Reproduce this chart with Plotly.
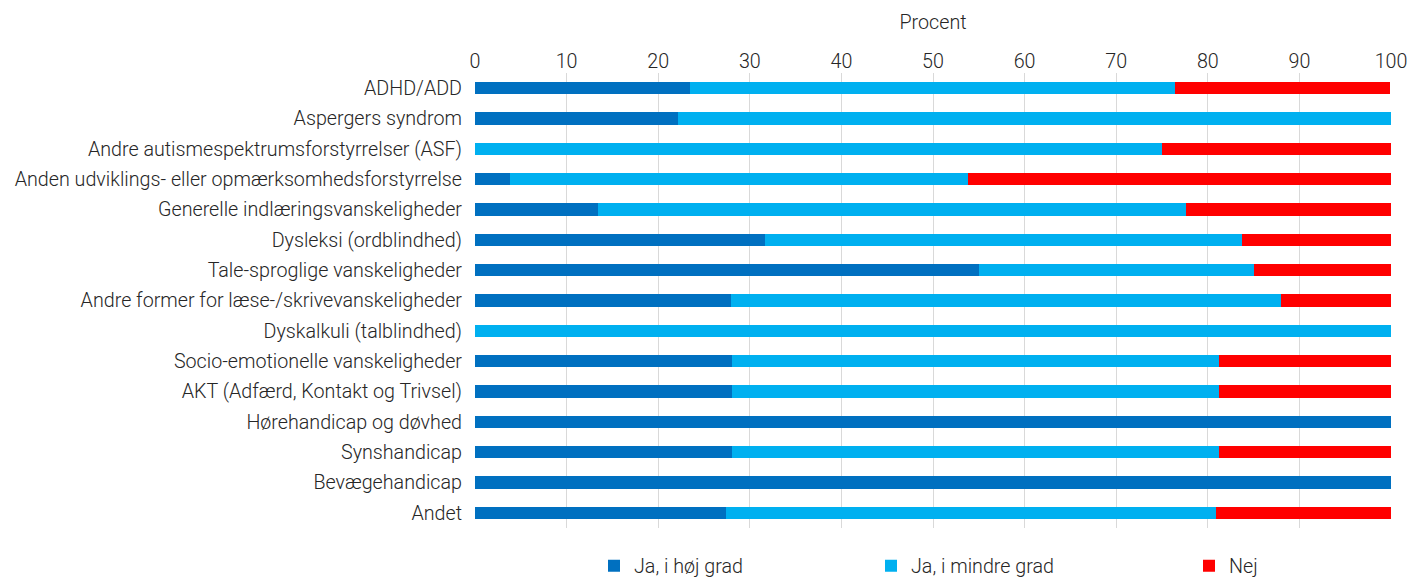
import plotly.graph_objects as go

categories = [
    "ADHD/ADD",
    "Aspergers syndrom",
    "Andre autismespektrumsforstyrrelser (ASF)",
    "Anden udviklings- eller opmærksomhedsforstyrrelse",
    "Generelle indlæringsvanskeligheder",
    "Dysleksi (ordblindhed)",
    "Tale-sproglige vanskeligheder",
    "Andre former for læse-/skrivevanskeligheder",
    "Dyskalkuli (talblindhed)",
    "Socio-emotionelle vanskeligheder",
    "AKT (Adfærd, Kontakt og Trivsel)",
    "Hørehandicap og døvhed",
    "Synshandicap",
    "Bevægehandicap",
    "Andet",
]

ja_hoej = [23.5, 22.2, 0.0, 3.8, 13.4, 31.7, 55.0, 28.0, 0.0, 28.1, 28.1, 100.0, 28.1, 100.0, 27.4]
ja_mindre = [52.9, 77.8, 75.0, 50.0, 64.2, 52.0, 30.0, 60.0, 100.0, 53.1, 53.1, 0.0, 53.1, 0.0, 53.5]
nej = [23.5, 0.0, 25.0, 46.2, 22.4, 16.3, 15.0, 12.0, 0.0, 18.8, 18.8, 0.0, 18.8, 0.0, 19.1]

series = [
    ("Ja, i høj grad", ja_hoej, "#0070C0", "legend"),
    ("Ja, i mindre grad", ja_mindre, "#00B0F0", "legend2"),
    ("Nej", nej, "#FF0000", "legend3"),
]

FONT = "Roboto"
FS = 19.7
TXT = "#262626"


def font():
    return dict(family=FONT, size=FS, color=TXT, weight=300)


fig = go.Figure()
for name, vals, color, lg in series:
    fig.add_trace(go.Bar(
        y=categories, x=vals, name=name, orientation="h",
        marker=dict(color=color, line=dict(width=0)),
        legend=lg,
    ))

W, H = 1412, 577
ml, mr, mt, mb = 475, 21, 73, 49
pw, ph = W - ml - mr, H - mt - mb


def legend_at(px):
    return dict(
        x=(px - ml) / pw, xanchor="left",
        y=-(566 - (H - mb)) / ph, yanchor="middle",
        orientation="h", font=font(),
        bgcolor="rgba(0,0,0,0)", itemwidth=30, tracegroupgap=0,
    )


fig.update_layout(
    width=W, height=H,
    margin=dict(l=ml, r=mr, t=mt, b=mb, pad=0, autoexpand=False),
    barmode="stack", bargap=0.6,
    plot_bgcolor="white", paper_bgcolor="white",
    font=font(),
    showlegend=True,
    legend=legend_at(594),
    legend2=legend_at(871),
    legend3=legend_at(1189),
    xaxis=dict(
        side="top", range=[0, 100], dtick=10, tick0=0,
        showgrid=True, gridcolor="#D9D9D9", gridwidth=1,
        zeroline=False, showline=False, ticks="",
        tickfont=font(),
        title=dict(text="Procent", font=font(), standoff=15),
        fixedrange=True,
    ),
    yaxis=dict(
        autorange="reversed", showgrid=False, zeroline=False, showline=False,
        ticks="", ticklabelstandoff=12, tickfont=font(),
        fixedrange=True,
    ),
)

fig.write_html("out.html")
